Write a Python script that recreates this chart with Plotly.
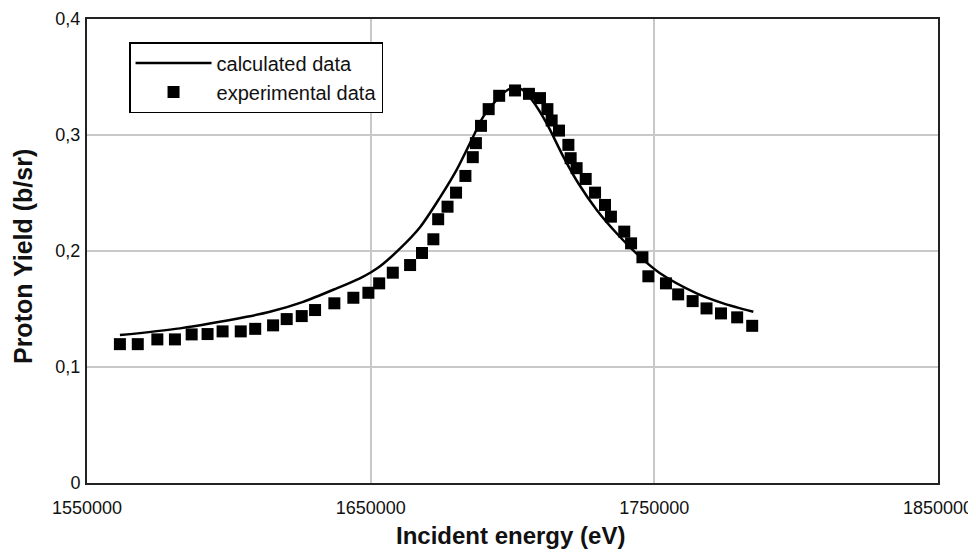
import plotly.graph_objects as go

# Experimental data (incident energy in eV, proton yield in b/sr)
exp_energy = [1561600, 1567900, 1574800, 1581000, 1586900, 1592500, 1597800, 1604200,
              1609300, 1615600, 1620400, 1625700, 1630400, 1637200, 1643900, 1649200,
              1653000, 1657800, 1663900, 1668100, 1672100, 1673800, 1677100, 1680100,
              1683400, 1686000, 1687100, 1688900, 1691600, 1695300, 1700900, 1705800,
              1709700, 1712300, 1713800, 1716400, 1719700, 1720500, 1722600, 1725800,
              1729100, 1732600, 1734700, 1739400, 1741800, 1745800, 1747900, 1754100,
              1758400, 1763500, 1768400, 1773500, 1779200, 1784500]
exp_yield = [0.1197, 0.1197, 0.1238, 0.1238, 0.1281, 0.1284, 0.1307, 0.1307,
             0.1329, 0.1359, 0.1413, 0.1439, 0.1491, 0.1549, 0.1597, 0.1640,
             0.1721, 0.1813, 0.1879, 0.1983, 0.2101, 0.2274, 0.2382, 0.2503,
             0.2647, 0.2809, 0.2930, 0.3079, 0.3223, 0.3338, 0.3384, 0.3355,
             0.3318, 0.3223, 0.3125, 0.3038, 0.2915, 0.2800, 0.2714, 0.2621,
             0.2503, 0.2397, 0.2296, 0.2167, 0.2066, 0.1946, 0.1782, 0.1721,
             0.1626, 0.1568, 0.1505, 0.1462, 0.1428, 0.1355]

# Calculated curve
calc_energy = [1561600, 1582800, 1606300, 1614500, 1626200, 1638000, 1646200, 1650000,
               1653300, 1660300, 1667400, 1674400, 1680300, 1685600, 1689700, 1694400,
               1698400, 1700900, 1703300, 1706800, 1712000, 1717900, 1723200, 1729700,
               1736700, 1744900, 1752000, 1764900, 1774300, 1784900]
calc_yield = [0.1275, 0.1333, 0.1433, 0.1476, 0.1562, 0.1678, 0.1765, 0.1815,
              0.1868, 0.2020, 0.2205, 0.2460, 0.2699, 0.2958, 0.3159, 0.3303,
              0.3390, 0.3407, 0.3394, 0.3303, 0.3102, 0.2814, 0.2584, 0.2354,
              0.2153, 0.1951, 0.1808, 0.1635, 0.1549, 0.1476]

x_ticks = [1550000, 1650000, 1750000, 1850000]
x_tick_labels = ["1550000", "1650000", "1750000", "1850000"]
y_ticks = [0, 0.1, 0.2, 0.3, 0.4]
y_tick_labels = ["0", "0,1", "0,2", "0,3", "0,4"]

SANS = "Liberation Sans, Arial, sans-serif"
TXT = "#111"

fig = go.Figure()
fig.add_trace(go.Scatter(x=calc_energy, y=calc_yield, mode="lines", name="calculated data",
                         line=dict(color="black", width=2.5, shape="spline", smoothing=0.8)))
fig.add_trace(go.Scatter(x=exp_energy, y=exp_yield, mode="markers", name="experimental data",
                         marker=dict(symbol="square", size=12, color="black")))

# page body adds an 8px offset, so the figure is placed at (8, 8)
fig.update_layout(
    width=968, height=548,
    margin=dict(l=79, r=38, t=11, b=73),
    paper_bgcolor="white", plot_bgcolor="white",
    font=dict(family=SANS, size=18, color=TXT),
    legend=dict(x=0.0494, y=0.9504, xanchor="left", yanchor="top",
                bgcolor="white", bordercolor="black", borderwidth=1.5,
                font=dict(family=SANS, size=20, color=TXT),
                itemwidth=76),
    showlegend=True,
    annotations=[
        dict(text="<b>Incident energy (eV)</b>", xref="paper", yref="paper",
             x=0.498, y=-0.1142, xanchor="center", yanchor="middle", showarrow=False,
             font=dict(family=SANS, size=24, color=TXT)),
        dict(text="<b>Proton Yield (b/sr)</b>", xref="paper", yref="paper",
             x=-0.0752, y=0.487, xanchor="center", yanchor="middle", showarrow=False,
             textangle=-90, font=dict(family=SANS, size=25, color=TXT)),
    ],
)
fig.update_xaxes(range=[1550000, 1850000], tickvals=x_ticks, ticktext=x_tick_labels,
                 showgrid=True, gridcolor="#c8c8c8", gridwidth=1.5,
                 showline=True, linecolor="#222", linewidth=2, mirror=True,
                 ticks="", ticklabelstandoff=7, ticklabeloverflow="allow",
                 zeroline=False, automargin=False)
fig.update_yaxes(range=[0, 0.4], tickvals=y_ticks, ticktext=y_tick_labels,
                 showgrid=True, gridcolor="#c8c8c8", gridwidth=1.5,
                 showline=True, linecolor="#222", linewidth=2, mirror=True,
                 ticks="", ticklabelstandoff=1, ticklabeloverflow="allow",
                 zeroline=False, automargin=False)

fig.write_html("out.html")
